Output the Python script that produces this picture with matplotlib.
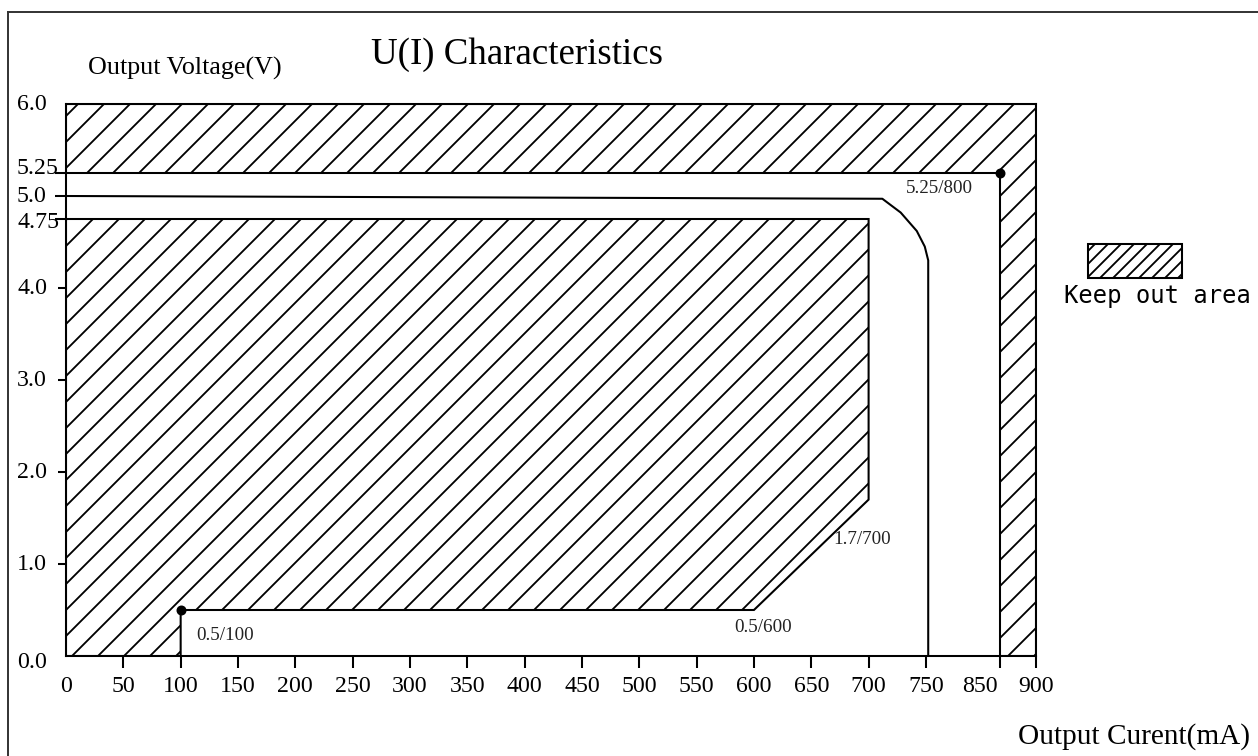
import matplotlib
matplotlib.use("Agg")
import matplotlib.pyplot as plt
from matplotlib.patches import Polygon, Rectangle
from matplotlib.lines import Line2D
from matplotlib import transforms

# x ticks as drawn on the sheet (last two ticks are printed as 850 / 900)
current_ticks = [0, 50, 100, 150, 200, 250, 300, 350, 400, 450, 500, 550,
                 600, 650, 700, 750, 815, 846]
current_labels = ["0", "50", "100", "150", "200", "250", "300", "350", "400",
                  "450", "500", "550", "600", "650", "700", "750", "850", "900"]
voltage_ticks = [0.0, 1.0, 2.0, 3.0, 4.0, 4.75, 5.0, 5.25, 6.0]
voltage_labels = ["0.0", "1.0", "2.0", "3.0", "4.0", "4.75", "5.0", "5.25", "6.0"]

# keep out area: top band + right strip
upper_i = [0, 815, 815, 846, 846, 0]
upper_u = [5.25, 5.25, 0.0, 0.0, 6.0, 6.0]
# keep out area below the characteristic
lower_i = [0, 700, 700, 600, 100, 100, 0]
lower_u = [4.75, 4.75, 1.7, 0.5, 0.5, 0.0, 0.0]

# typical U(I) curve
curve_i = [0, 712, 728, 742, 749, 752, 752]
curve_u = [5.0, 4.97, 4.82, 4.62, 4.45, 4.3, 0.0]

# marked corner points
corner_i = [815, 100]
corner_u = [5.25, 0.5]

# corner notes
note_text = ["5.25/800", "1.7/700", "0.5/600", "0.5/100"]
note_i = [815, 700, 600, 100]
note_u = [5.25, 1.7, 0.5, 0.5]

DPI = 156
W, H = 1258, 756
plt.rcParams["font.family"] = ["Liberation Serif", "DejaVu Serif"]
plt.rcParams["hatch.linewidth"] = 0.85

fig = plt.figure(figsize=(W / DPI, H / DPI), dpi=DPI)
ax = fig.add_axes([66 / W, 100 / H, 970 / W, 552 / H])
ax.set_xlim(0, 846)
ax.set_ylim(0, 6.0)

lw = 0.95
ax.add_patch(Polygon(list(zip(upper_i, upper_u)), closed=True, facecolor="white",
                     edgecolor="black", hatch="//", lw=lw))
ax.add_patch(Polygon(list(zip(lower_i, lower_u)), closed=True, facecolor="white",
                     edgecolor="black", hatch="//", lw=lw))
ax.plot(curve_i, curve_u, color="black", lw=lw)
ax.plot(corner_i, corner_u, "o", color="black", ms=3.6)

# label offsets in pixels relative to the corner points
offsets = [(-61, -15), (-7, -40), (9, -17), (44, -25)]
for txt, xi, yu, off in zip(note_text, note_i, note_u, offsets):
    ax.annotate(txt, xy=(xi, yu), xytext=off, textcoords="offset pixels",
                ha="center", va="center", fontsize=8.8, color="#222222")

for s in ax.spines.values():
    s.set_linewidth(lw)

# x axis
ax.set_xticks(current_ticks)
ax.set_xticklabels(current_labels)
ax.tick_params(axis="x", direction="out", length=5.5, width=lw, pad=3.5,
               labelsize=11)
ax.xaxis.get_major_ticks()[0].tick1line.set_visible(False)
# the "850" label sits left of its tick on the sheet
lab850 = ax.get_xticklabels()[current_labels.index("850")]
lab850.set_transform(lab850.get_transform() +
                     transforms.Affine2D().translate(-21, 0))

# y axis: ticks only, labels are placed left-aligned by hand
ax.set_yticks(voltage_ticks)
ax.tick_params(axis="y", direction="out", length=3.7, width=lw, labelleft=False)
for t, v in zip(ax.yaxis.get_major_ticks(), voltage_ticks):
    if v in (0.0, 6.0):
        t.tick1line.set_visible(False)
    elif v in (4.75, 5.0, 5.25):
        t.tick1line.set_markersize(5.2)

ylab_tr = transforms.blended_transform_factory(fig.transFigure, ax.transData)
for v, lab in zip(voltage_ticks, voltage_labels):
    dy = 0
    if v == 5.25:
        dy = 5
    elif v == 0.0:
        dy = -7
    elif v == 4.75:
        dy = -3
    tr = transforms.offset_copy(ylab_tr, fig=fig, x=0, y=dy, units="dots")
    ax.text(17 / W, v, lab, transform=tr, ha="left", va="center", fontsize=11,
            clip_on=False)

# titles
fig.text(185 / W, 1 - 68 / H, "Output Voltage(V)", ha="center", va="center",
         fontsize=12)
fig.text(517 / W, 1 - 55 / H, "U(I) Characteristics", ha="center", va="center",
         fontsize=17)
fig.text(1250 / W, 1 - 737 / H, "Output Curent(mA)", ha="right", va="center",
         fontsize=13.5)

# keep out legend
fig.add_artist(Rectangle((1088 / W, 478 / H), 94 / W, 34 / H,
                         transform=fig.transFigure, facecolor="white",
                         edgecolor="black", hatch="////", lw=lw))
fig.text(1157 / W, 1 - 296 / H, "Keep out area", ha="center", va="center",
         fontsize=11, family="DejaVu Sans Mono")

# page frame (left and top edge)
fig.add_artist(Line2D([8 / W, 8 / W], [0, 1 - 12 / H], color="#333333", lw=0.9,
                      transform=fig.transFigure))
fig.add_artist(Line2D([8 / W, 1], [1 - 12 / H, 1 - 12 / H], color="#333333",
                      lw=0.9, transform=fig.transFigure))

fig.savefig("out.png", dpi=DPI)
